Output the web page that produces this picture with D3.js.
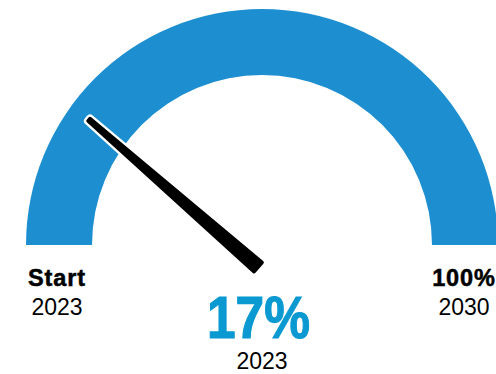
<!DOCTYPE html>
<html>
<head>
<meta charset="utf-8">
<script src="https://cdn.jsdelivr.net/npm/d3@7"></script>
<style>
  html, body { margin: 0; padding: 0; background: #ffffff; }
  svg { display: block; }
  text { font-family: "Liberation Sans", Arial, Helvetica, sans-serif; }
</style>
</head>
<body>
<div id="chart"></div>
<script>
// Gauge data
const gaugeDomain = [0, 100];
const currentValue = [17];
const currentLabel = ["17%"];
const currentYear = ["2023"];
const startLabels = ["Start", "2023"];
const endLabels = ["100%", "2030"];

const width = 496, height = 374;
const cx = 262, cy = 245;
const rInner = 170, rOuter = 236;
const bandMid = (rInner + rOuter) / 2;

const svg = d3.select("#chart").append("svg")
  .attr("width", width)
  .attr("height", height);

// Value -> angle along the half-circle band (radians, d3.arc convention)
const arcAngle = d3.scaleLinear().domain(gaugeDomain).range([-Math.PI / 2, Math.PI / 2]);

const arc = d3.arc()
  .innerRadius(rInner)
  .outerRadius(rOuter);

svg.append("path")
  .attr("transform", `translate(${cx},${cy})`)
  .attr("d", arc({ startAngle: arcAngle(gaugeDomain[0]), endAngle: arcAngle(gaugeDomain[1]) }))
  .attr("fill", "#1d8fd0");

// Needle: pivots from a point below the hub, rotation in degrees from vertical
const needleAngle = d3.scaleLinear().domain(gaugeDomain).range([-77.4, 90]);
const pivot = [258, 267];
const needleLen = 224;
const baseHalf = 6, tipHalf = 1.4;

const needlePath =
  `M${-baseHalf},0 L${-tipHalf},${-needleLen} ` +
  `L${tipHalf},${-needleLen} L${baseHalf},0 Z`;

const needle = svg.append("g")
  .attr("transform", `translate(${pivot[0]},${pivot[1]}) rotate(${needleAngle(currentValue[0])})`);

needle.append("path")
  .attr("d", needlePath)
  .attr("fill", "#ffffff")
  .attr("stroke", "#ffffff")
  .attr("stroke-width", 8.5)
  .attr("stroke-linejoin", "round");

needle.append("path")
  .attr("d", needlePath)
  .attr("fill", "#000000")
  .attr("stroke", "#000000")
  .attr("stroke-width", 3.8)
  .attr("stroke-linejoin", "round");

// End labels under each end of the band
function endLabel(x, lines) {
  const g = svg.append("g").attr("text-anchor", "middle");
  g.append("text")
    .attr("x", x).attr("y", 286)
    .attr("font-size", 23.5)
    .attr("font-weight", "bold")
    .attr("letter-spacing", 0.9)
    .attr("fill", "#000")
    .attr("stroke", "#000")
    .attr("stroke-width", 0.5)
    .text(lines[0]);
  g.append("text")
    .attr("x", x).attr("y", 315)
    .attr("font-size", 23)
    .attr("fill", "#000")
    .text(lines[1]);
}
endLabel(cx - bandMid - 2, startLabels);
endLabel(cx + bandMid - 1, endLabels);

// Current value readout
svg.append("text")
  .attr("x", 207).attr("y", 338)
  .attr("text-anchor", "start")
  .attr("font-size", 60)
  .attr("font-weight", "bold")
  .attr("textLength", 103)
  .attr("lengthAdjust", "spacingAndGlyphs")
  .attr("fill", "#0a99d1")
  .attr("stroke", "#0a99d1")
  .attr("stroke-width", 1.2)
  .text(currentLabel[0]);

svg.append("text")
  .attr("x", 262).attr("y", 368.5)
  .attr("text-anchor", "middle")
  .attr("font-size", 23)
  .attr("fill", "#000")
  .text(currentYear[0]);
</script>
</body>
</html>
